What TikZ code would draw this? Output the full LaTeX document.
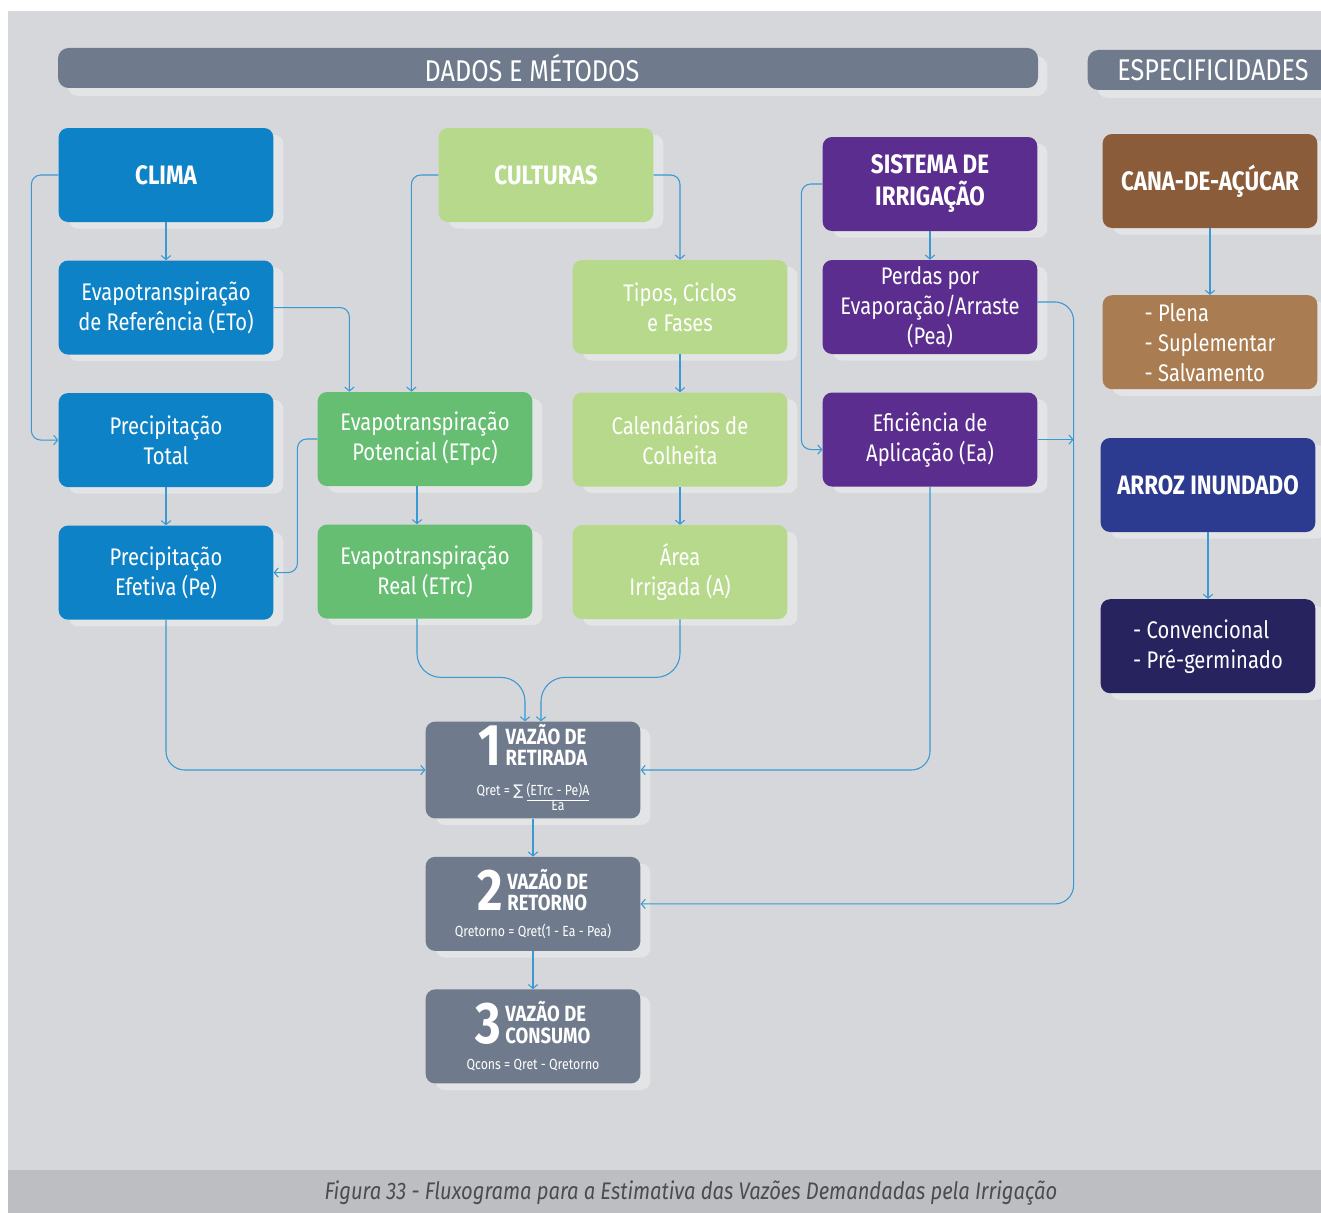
\documentclass[tikz,border=0pt]{standalone}
\usepackage{fontspec}
\setmainfont{Fira Sans}[FakeStretch=0.84]
\newfontfamily\symfont{DejaVu Sans}
\usetikzlibrary{arrows.meta,positioning,calc,shadows}

\definecolor{bgc}{HTML}{D6D7DB}
\definecolor{capc}{HTML}{BCBEC1}
\definecolor{captxt}{HTML}{4A4C52}
\definecolor{shadowc}{HTML}{E3E4E6}
\definecolor{headc}{HTML}{6F7A8C}
\definecolor{climac}{HTML}{0E82C6}
\definecolor{greenc}{HTML}{66BE72}
\definecolor{lgreenc}{HTML}{B7D98B}
\definecolor{purplec}{HTML}{5B2D8E}
\definecolor{brownc}{HTML}{8B5C3A}
\definecolor{lbrownc}{HTML}{A97C51}
\definecolor{arrozc}{HTML}{2C3A8F}
\definecolor{navyc}{HTML}{27235F}
\definecolor{arrowc}{HTML}{3A98D2}

\tikzset{
  box/.style={rectangle, rounded corners=7pt, align=center, text=white, minimum width=161pt, minimum height=70.5pt, inner sep=2pt, font=\fontsize{18}{22.5}\selectfont, drop shadow={shadow xshift=7.5pt, shadow yshift=-5pt, fill=shadowc, opacity=1}},
  tbox/.style={box, font=\bfseries\fontsize{20}{24}\selectfont},
  hbar/.style={rectangle, rounded corners=8pt, fill=headc, text=white, minimum height=30pt, font=\fontsize{22.5}{22.5}\selectfont, drop shadow={shadow xshift=7pt, shadow yshift=-6pt, fill=shadowc, opacity=1}},
  qbox/.style={box, fill=headc},
  arr/.style={draw=arrowc, line width=0.8pt, rounded corners=7pt, -{Straight Barb[length=3pt,width=7pt]}},
  bigarr/.style={arr, rounded corners=18pt}
}
\newcommand{\qnum}[1]{{\bfseries\fontsize{44}{44}\selectfont #1}}
\newcommand{\qtitle}[2]{{\bfseries\fontsize{16.5}{16.5}\selectfont\def\arraystretch{0.92}\begin{tabular}[b]{@{}l@{}}#1\\#2\end{tabular}}}
\newcommand{\qform}{\fontsize{11}{13}\selectfont}

\begin{document}
\begin{tikzpicture}[x=0.75pt, y=-0.75pt, node distance=28.5pt]
\useasboundingbox (0,0) rectangle (1321,1213);
\clip (0,0) rectangle (1321,1213);
\fill[bgc] (8,11) rectangle (1321,1170);
\fill[capc] (8,1170) rectangle (1321,1213);

% cabecalhos
\node[hbar, minimum width=735pt] (hdados) at (548,68) {DADOS E MÉTODOS\hspace*{24pt}};
\node[hbar, minimum width=188pt] (hespec) at (1213,70) {ESPECIFICIDADES};

% clima
\node[tbox, fill=climac] (clima) at (166,175) {CLIMA};
\node[box, fill=climac, below=of clima] (eto) {Evapotranspiração\\de Referência (ETo)};
\node[box, fill=climac, below=of eto] (ptotal) {Precipitação\\Total};
\node[box, fill=climac, below=of ptotal] (pefet) {Precipitação\\Efetiva (Pe)};

% culturas
\node[tbox, fill=lgreenc] (culturas) at (546,175) {CULTURAS};
\node[box, fill=greenc] (etpc) at (425,439) {Evapotranspiração\\Potencial (ETpc)};
\node[box, fill=greenc, below=of etpc] (etrc) {Evapotranspiração\\Real (ETrc)};
\node[box, fill=lgreenc] (tipos) at (680,307) {Tipos, Ciclos\\e Fases};
\node[box, fill=lgreenc, below=of tipos] (calend) {Calendários de\\Colheita};
\node[box, fill=lgreenc, below=of calend] (area) {Área\\Irrigada (A)};

% sistema de irrigacao
\node[tbox, fill=purplec] (sistema) at (930,184) {SISTEMA DE\\IRRIGAÇÃO};
\node[box, fill=purplec] (perdas) at (930,307) {Perdas por\\Evaporação/Arraste\\(Pea)};
\node[box, fill=purplec, below=of perdas] (efic) {Eficiência de\\Aplicação (Ea)};

% especificidades
\node[tbox, fill=brownc] (cana) at (1210,181) {CANA-DE-AÇÚCAR};
\node[box, fill=lbrownc, align=left, below=50pt of cana] (canatipos) {- Plena\\- Suplementar\\- Salvamento};
\node[tbox, fill=arrozc] (arroz) at (1208,485) {ARROZ INUNDADO};
\node[box, fill=navyc, align=left, below=50pt of arroz] (arroztipos) {- Convencional\\- Pré-germinado};

% vazoes
\node[qbox] (q1) at (533,770) {\qnum{1}\,\qtitle{VAZÃO DE}{RETIRADA}\\[0pt]
  {\qform Qret = {\symfont ∑} \begin{tabular}[t]{@{}c@{}}\underline{(ETrc - Pe)A}\\[-2pt]Ea\end{tabular}}};
\node[qbox, below=of q1] (q2) {\qnum{2}\,\qtitle{VAZÃO DE}{RETORNO}\\[-3pt]
  {\qform Qretorno = Qret(1 - Ea - Pea)}};
\node[qbox, below=of q2] (q3) {\qnum{3}\,\qtitle{VAZÃO DE}{CONSUMO}\\[-3pt]
  {\qform Qcons = Qret - Qretorno}};

% ligacoes
\draw[arr] (clima) -- (eto);
\draw[arr] (clima.west) -- ++(-27,0) |- (ptotal.west);
\draw[arr] (ptotal) -- (pefet);
\draw[arr] (eto.east) -| ($(etpc.north west)+(32,0)$);
\draw[arr] (culturas.west) -| ($(etpc.north west)+(94,0)$);
\draw[arr] (culturas.east) -| (tipos.north);
\draw[arr] (tipos) -- (calend);
\draw[arr] (calend) -- (area);
\draw[arr] (etpc.west) -- ++(-20,0) |- (pefet.east);
\draw[arr] ($(etpc.south)+(-8,0)$) -- ($(etrc.north)+(-8,0)$);
\draw[bigarr] ($(etrc.south)+(-8,0)$) |- ($(q1.north)+(-8,-44)$) -- ($(q1.north)+(-8,0)$);
\draw[bigarr] (area.south) |- ($(q1.north)+(8,-44)$) -- ($(q1.north)+(8,0)$);
\draw[arr, rounded corners=14pt] (pefet.south) |- (q1.west);
\draw[arr, rounded corners=14pt] (efic.south) |- (q1.east);
\draw[arr] (sistema.west) -- ++(-21,0) |- ($(efic.west)+(0,10)$);
\draw[arr] (sistema) -- (perdas);
\draw[arr, rounded corners=14pt] ($(perdas.east)+(0,-5)$) -- ++(36,0) |- (q2.east);
\draw[arr] (efic.east) -- ++(36,0);
\draw[arr] (q1) -- (q2);
\draw[arr] (q2) -- (q3);
\draw[arr] (cana) -- (canatipos);
\draw[arr] (arroz) -- (arroztipos);

% legenda
\node[text=captxt, font=\itshape\fontsize{18}{18}\selectfont] (legenda) at (691,1193) {Figura 33 - Fluxograma para a Estimativa das Vazões Demandadas pela Irrigação};
\end{tikzpicture}
\end{document}
